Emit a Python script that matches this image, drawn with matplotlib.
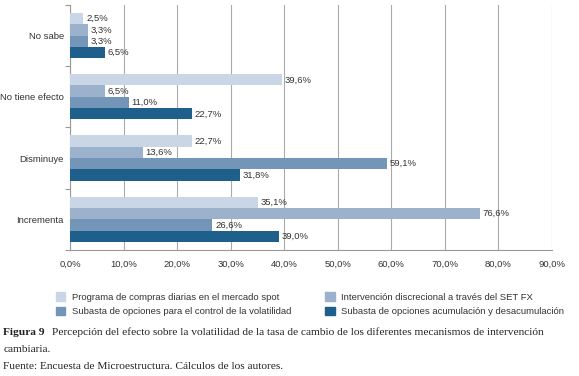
import numpy as np
import matplotlib.pyplot as plt
from matplotlib.patches import Patch

# categorias (de arriba hacia abajo)
categorias = ['No sabe', 'No tiene efecto', 'Disminuye', 'Incrementa']

spot = [2.5, 39.6, 22.7, 35.1]
set_fx = [3.3, 6.5, 13.6, 76.6]
opc_vol = [3.3, 11.0, 59.1, 26.6]
opc_acum = [6.5, 22.7, 31.8, 39.0]

series = ['Programa de compras diarias en el mercado spot',
          'Intervención discrecional a través del SET FX',
          'Subasta de opciones para el control de la volatilidad',
          'Subasta de opciones acumulación y desacumulación']
colores = ['#c9d6e6', '#9cb1cc', '#7395b7', '#1f5f8c']

ticks_x = np.arange(0, 91, 10)

plt.rcParams['font.family'] = ['Liberation Sans', 'DejaVu Sans']

fig = plt.figure(figsize=(5.79, 3.76), dpi=100)
ax = fig.add_axes([0.1209, 0.335, 0.8325, 0.652])

valores = [spot, set_fx, opc_vol, opc_acum]
y = np.arange(len(categorias))
h = 0.185
for i, (vals, col) in enumerate(zip(valores, colores)):
    pos = y - 1.5 * h + i * h
    ax.barh(pos, vals, height=h, color=col, zorder=3)
    for p, v in zip(pos, vals):
        ax.text(v + 0.5, p, f'{v:.1f}%'.replace('.', ','), va='center',
                ha='left', fontsize=6.8, color='#333333', zorder=4)

ax.set_xlim(0, 90)
ax.set_ylim(len(categorias) - 0.5, -0.5)
ax.set_xticks(ticks_x)
ax.set_xticklabels([f'{t:.1f}%'.replace('.', ',') for t in ticks_x],
                   fontsize=6.8, color='#333333')
ax.tick_params(axis='x', length=0, pad=7)

# marcas en los limites de cada grupo, etiquetas al centro
ax.set_yticks(np.arange(-0.5, len(categorias)), minor=False)
ax.set_yticklabels([])
ax.set_yticks(y, minor=True)
ax.set_yticklabels(categorias, minor=True, fontsize=6.8, color='#333333')
ax.tick_params(axis='y', which='major', length=3.5, color='#999999', width=0.8)
ax.tick_params(axis='y', which='minor', length=0, pad=4.5)

ax.grid(axis='x', color='#aaaaaa', linewidth=0.8, zorder=0)
for s in ['top', 'right']:
    ax.spines[s].set_visible(False)
for s in ['left', 'bottom']:
    ax.spines[s].set_color('#999999')
    ax.spines[s].set_linewidth(0.8)

# orden por filas como en la figura original
orden = [0, 2, 1, 3]
handles = [Patch(color=colores[k]) for k in orden]
fig.legend(handles, [series[k] for k in orden], loc='upper left',
           bbox_to_anchor=(0.082, 0.245), ncol=2, frameon=False, fontsize=6.8,
           handlelength=1.0, handleheight=1.0, columnspacing=3.6,
           labelspacing=0.55, handletextpad=0.7, labelcolor='#333333')

fig.text(0.006, 0.108, 'Figura 9', fontsize=8.2, fontweight='bold',
         family='Liberation Serif', color='#222222')
fig.text(0.09, 0.108, 'Percepción del efecto sobre la volatilidad de la tasa de cambio '
         'de los diferentes mecanismos de intervención', fontsize=8.2,
         family='Liberation Serif', color='#222222')
fig.text(0.006, 0.063, 'cambiaria.', fontsize=8.2, family='Liberation Serif',
         color='#222222')
fig.text(0.006, 0.018, 'Fuente: Encuesta de Microestructura. Cálculos de los autores.',
         fontsize=8.2, family='Liberation Serif', color='#222222')

fig.savefig('out.png', dpi=100)
